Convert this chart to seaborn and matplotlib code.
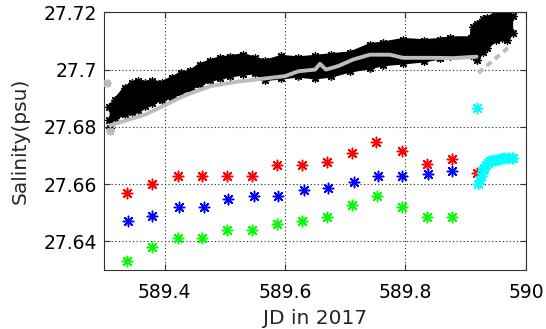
import matplotlib
matplotlib.use("Agg")
import matplotlib.pyplot as plt
import numpy as np
import pandas as pd
import seaborn as sns

# ---- discrete samples (JD 2017, salinity in psu) ----
red_jd = [589.338, 589.379, 589.422, 589.462, 589.504, 589.546, 589.587, 589.629,
          589.669, 589.711, 589.751, 589.794, 589.836, 589.877, 589.918]
red_sal = [27.6568, 27.6600, 27.6629, 27.6629, 27.6629, 27.6629, 27.6668, 27.6668,
           27.6676, 27.6708, 27.6747, 27.6715, 27.6669, 27.6686, 27.6638]

blue_jd = [589.339, 589.380, 589.424, 589.465, 589.506, 589.548, 589.589, 589.631,
           589.671, 589.714, 589.754, 589.795, 589.838, 589.878]
blue_sal = [27.6470, 27.6487, 27.6520, 27.6520, 27.6548, 27.6560, 27.6559, 27.6579,
            27.6587, 27.6608, 27.6628, 27.6628, 27.6637, 27.6647]

green_jd = [589.338, 589.379, 589.422, 589.462, 589.504, 589.546, 589.587, 589.629,
            589.670, 589.712, 589.752, 589.795, 589.836, 589.877]
green_sal = [27.6332, 27.6380, 27.6413, 27.6413, 27.6441, 27.6441, 27.6459, 27.6470,
             27.6486, 27.6526, 27.6559, 27.6520, 27.6486, 27.6486]

cyan_jd = [589.918, 589.921, 589.923, 589.925, 589.927, 589.929, 589.931, 589.934,
           589.937, 589.940, 589.944, 589.948, 589.952, 589.956, 589.960, 589.964,
           589.968, 589.972, 589.976, 589.979]
cyan_sal = [27.6865, 27.6600, 27.6615, 27.6628, 27.6640, 27.6650, 27.6658, 27.6666,
            27.6675, 27.6680, 27.6684, 27.6683, 27.6685, 27.6686, 27.6690, 27.6690,
            27.6690, 27.6690, 27.6692, 27.6692]

# ---- continuous record: envelope of the dense black trace ----
band_jd = [589.308, 589.318, 589.334, 589.346, 589.356, 589.368, 589.379, 589.395,
           589.412, 589.428, 589.442, 589.459, 589.475, 589.492, 589.509, 589.531,
           589.550, 589.567, 589.594, 589.622, 589.650, 589.677, 589.708, 589.741,
           589.763, 589.796, 589.830, 589.857, 589.874, 589.908, 589.912, 589.918,
           589.929, 589.935, 589.951, 589.960, 589.969, 589.978]
band_hi = [27.6870, 27.6895, 27.6936, 27.6954, 27.6959, 27.6954, 27.6959, 27.6954,
           27.6971, 27.6988, 27.6994, 27.7017, 27.7030, 27.7041, 27.7045, 27.7052,
           27.7040, 27.7029, 27.7046, 27.7041, 27.7046, 27.7052, 27.7058, 27.7087,
           27.7093, 27.7105, 27.7101, 27.7105, 27.7111, 27.7111, 27.7150, 27.7160,
           27.7175, 27.7180, 27.7198, 27.7200, 27.7200, 27.7186]
band_lo = [27.6825, 27.6830, 27.6845, 27.6852, 27.6860, 27.6872, 27.6882, 27.6895,
           27.6903, 27.6920, 27.6932, 27.6948, 27.6962, 27.6970, 27.6977, 27.6985,
           27.6988, 27.6965, 27.6971, 27.6977, 27.6971, 27.6977, 27.6995, 27.7006,
           27.7017, 27.7023, 27.7030, 27.7040, 27.7046, 27.7052, 27.7052, 27.7035,
           27.7060, 27.7075, 27.7105, 27.7110, 27.7105, 27.7128]
stray_black_jd = [589.309]
stray_black_sal = [27.6796]

# ---- continuous record: grey trace ----
grey_jd = [589.310, 589.340, 589.368, 589.400, 589.434, 589.476, 589.525, 589.575,
           589.600, 589.622, 589.650, 589.658, 589.668, 589.688, 589.713, 589.741,
           589.774, 589.796, 589.841, 589.880, 589.918]
grey_sal = [27.6805, 27.6825, 27.6843, 27.6875, 27.6910, 27.6942, 27.6959, 27.6971,
            27.6977, 27.6994, 27.7000, 27.7020, 27.7000, 27.7012, 27.7035, 27.7052,
            27.7052, 27.7041, 27.7041, 27.7040, 27.7045]
grey_tail_jd = [589.921, 589.973]
grey_tail_sal = [27.6988, 27.7081]
grey_dot_jd = [589.304, 589.310]
grey_dot_sal = [27.6954, 27.6785]

x_ticks = [589.4, 589.6, 589.8, 590.0]
x_tick_labels = ["589.4", "589.6", "589.8", "590"]
y_ticks = [27.64, 27.66, 27.68, 27.70, 27.72]
y_tick_labels = ["27.64", "27.66", "27.68", "27.7", "27.72"]

sns.set_style("white")
plt.rcParams["font.family"] = ["DejaVu Sans"]

fig = plt.figure(figsize=(5.46, 3.29), dpi=100)
ax = fig.add_axes([0.1910, 0.1793, 0.7723, 0.7833])

frame = "#333333"
grey = "#bcbcbc"
star = (8, 2, 0)

# dense black trace
ax.fill_between(band_jd, band_lo, band_hi, color="black", linewidth=0, zorder=2)
band = pd.DataFrame({"jd": band_jd * 2, "sal": band_hi + band_lo,
                     "edge": ["hi"] * len(band_jd) + ["lo"] * len(band_jd)})
sns.lineplot(data=band, x="jd", y="sal", units="edge", estimator=None,
             color="black", linewidth=2.2, ax=ax, zorder=2)
sns.scatterplot(data=band, x="jd", y="sal", marker=star, s=30, color="black",
                edgecolor="black", linewidth=1.0, ax=ax, zorder=2, legend=False)
sns.scatterplot(x=stray_black_jd, y=stray_black_sal, marker=star, s=30,
                color="black", edgecolor="black", linewidth=1.0, ax=ax, zorder=2)

# grey trace drawn over it
sns.lineplot(x=grey_jd, y=grey_sal, color=grey, linewidth=2.8, ax=ax,
             estimator=None, sort=False, zorder=3)
sns.lineplot(x=grey_tail_jd, y=grey_tail_sal, color=grey, linewidth=2.8, ax=ax,
             estimator=None, sort=False, zorder=3, linestyle=(0, (1.6, 1.2)))
sns.scatterplot(x=grey_dot_jd, y=grey_dot_sal, marker=star, s=25, color=grey,
                edgecolor=grey, linewidth=1.2, ax=ax, zorder=3)

# discrete samples
for xs, ys, c in [(red_jd, red_sal, "#ff0000"), (blue_jd, blue_sal, "#0000ff"),
                  (green_jd, green_sal, "#00ff00"), (cyan_jd, cyan_sal, "#00ffff")]:
    sns.scatterplot(x=xs, y=ys, marker=star, s=55, color=c, edgecolor=c,
                    linewidth=1.1, ax=ax, zorder=4)

ax.set_xlim(589.3, 590.0)
ax.set_ylim(27.63, 27.72)
ax.set_xticks(x_ticks)
ax.set_xticklabels(x_tick_labels)
ax.set_yticks(y_ticks)
ax.set_yticklabels(y_tick_labels)

ax.grid(True, color="#222222", linestyle=(0, (1, 2.2)), linewidth=0.8)
ax.set_axisbelow(True)
for side in ["left", "right", "top", "bottom"]:
    ax.spines[side].set_visible(True)
    ax.spines[side].set_color(frame)
    ax.spines[side].set_linewidth(0.8)

ax.tick_params(axis="both", which="major", direction="in", length=4, width=0.8,
               color=frame, labelsize=13.5, labelcolor="black",
               top=True, right=True, bottom=True, left=True)
ax.tick_params(axis="x", pad=9)
ax.tick_params(axis="y", pad=5)

ax.set_xlabel("JD in 2017", fontsize=14.5)
ax.set_ylabel("Salinity(psu)", fontsize=14.5)
ax.xaxis.set_label_coords(0.5, -0.150)
ax.yaxis.set_label_coords(-0.178, 0.5)

fig.savefig("out.png", dpi=100)
